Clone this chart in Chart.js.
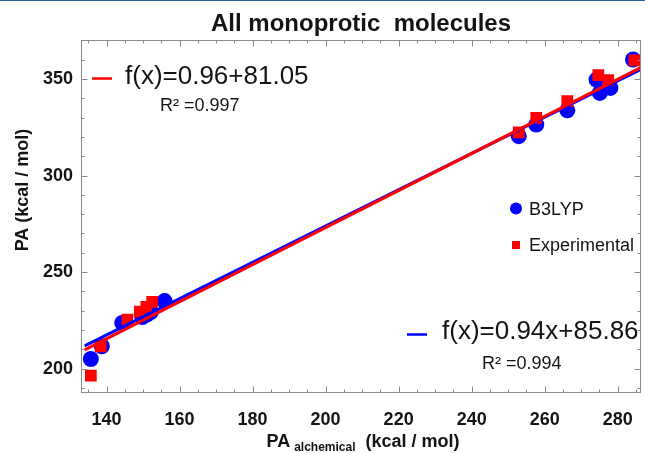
<!DOCTYPE html>
<html lang="en">
<head>
<meta charset="UTF-8">
<title>All monoprotic molecules</title>
<script src="https://cdn.jsdelivr.net/npm/chart.js"></script>
<style>
  body { margin: 0; background: #fff; overflow: hidden; }
  /* canvas is a few px wider than the window so the plot frame reaches the right edge */
  #wrap { width: 645px; height: 453px; overflow: hidden; }
</style>
</head>
<body>
<div id="wrap"><canvas id="paChart" width="649" height="453"></canvas></div>
<script>
// values (kcal/mol)
const b3lypX = [135.7, 138.7, 144.3, 149.8, 151.0, 152.1, 155.9, 252.9, 257.7, 266.2, 274.2, 275.1, 278.0, 284.2];
const b3lypY = [205.0, 211.6, 223.7, 226.7, 228.0, 229.3, 235.0, 320.4, 326.4, 333.8, 349.7, 342.8, 345.4, 360.1];
const expX = [135.7, 138.4, 145.7, 149.1, 150.9, 152.5, 252.9, 257.7, 266.2, 274.7, 277.4, 284.6];
const expY = [196.4, 211.6, 225.4, 229.6, 232.0, 234.6, 322.4, 329.9, 338.5, 352.0, 349.4, 359.6];

// fitted lines, end points
const fitX = [134, 286.3];
const expFitY = [209.7, 355.9];
const b3lypFitY = [211.8, 355.0];

const xTicks = [140, 160, 180, 200, 220, 240, 260, 280];
const yTicks = [200, 250, 300, 350];
const xMinorStep = 5;
const yMinorStep = 10;

const FONT = '"Liberation Sans", Arial, sans-serif';
const INK = '#141414';

function pts(xs, ys) {
    return xs.map((x, i) => ({ x: x, y: ys[i] }));
}

// frame, inner ticks, titles, legend and fit labels
const decor = {
    id: 'decor',
    afterDraw(chart) {
        const ctx = chart.ctx;
        const a = chart.chartArea;
        const sx = chart.scales.x, sy = chart.scales.y;
        const L = Math.round(a.left) + 0.5, R = Math.round(a.right) - 0.5;
        const T = Math.round(a.top) + 0.5, B = Math.round(a.bottom) - 0.5;

        ctx.save();
        // thin blue rule at the very top
        ctx.fillStyle = '#2f63a6';
        ctx.fillRect(0, 0, chart.width, 1);

        ctx.strokeStyle = '#8a8a8a';
        ctx.lineWidth = 1;
        ctx.strokeRect(L, T, R - L, B - T);

        ctx.beginPath();
        for (let v = Math.ceil(sx.min / xMinorStep) * xMinorStep; v <= sx.max; v += xMinorStep) {
            const len = xTicks.includes(v) ? 6 : 3;
            const px = Math.round(sx.getPixelForValue(v)) + 0.5;
            ctx.moveTo(px, B); ctx.lineTo(px, B - len);
            ctx.moveTo(px, T); ctx.lineTo(px, T + len);
        }
        for (let v = Math.ceil(sy.min / yMinorStep) * yMinorStep; v <= sy.max; v += yMinorStep) {
            const len = yTicks.includes(v) ? 6 : 3;
            const py = Math.round(sy.getPixelForValue(v)) + 0.5;
            ctx.moveTo(L, py); ctx.lineTo(L + len, py);
            ctx.moveTo(R, py); ctx.lineTo(R - len, py);
        }
        ctx.stroke();

        // chart title
        ctx.fillStyle = INK;
        ctx.textAlign = 'center';
        ctx.textBaseline = 'alphabetic';
        ctx.font = 'bold 24px ' + FONT;
        ctx.fillText('All monoprotic  molecules', 361, 31);

        // y axis title
        ctx.save();
        ctx.translate(23, 190);
        ctx.rotate(-Math.PI / 2);
        ctx.font = 'bold 18px ' + FONT;
        ctx.textBaseline = 'middle';
        ctx.fillText('PA (kcal / mol)', 0, 0);
        ctx.restore();

        // x axis title with subscript
        ctx.textAlign = 'left';
        const big = 'bold 18px ' + FONT, small = 'bold 12px ' + FONT;
        ctx.font = big;
        const w1 = ctx.measureText('PA').width;
        const w3 = ctx.measureText('(kcal / mol)').width;
        ctx.font = small;
        const w2 = ctx.measureText('alchemical').width;
        const gap1 = 4, gap2 = 10;
        let x0 = 363 - (w1 + gap1 + w2 + gap2 + w3) / 2;
        ctx.font = big;
        ctx.fillText('PA', x0, 447);
        ctx.font = small;
        ctx.fillText('alchemical', x0 + w1 + gap1, 451);
        ctx.font = big;
        ctx.fillText('(kcal / mol)', x0 + w1 + gap1 + w2 + gap2, 447);

        // legend
        ctx.fillStyle = '#0000ff';
        ctx.beginPath();
        ctx.arc(516, 208.5, 6, 0, Math.PI * 2);
        ctx.fill();
        ctx.fillStyle = '#ff0000';
        ctx.fillRect(512, 241, 8, 8);
        ctx.fillStyle = INK;
        ctx.font = '18px ' + FONT;
        ctx.fillText('B3LYP', 529, 215);
        ctx.fillText('Experimental', 529, 251);

        // fit equations
        ctx.lineWidth = 2.5;
        ctx.strokeStyle = '#ff0000';
        ctx.beginPath(); ctx.moveTo(92, 78.5); ctx.lineTo(112, 78.5); ctx.stroke();
        ctx.strokeStyle = '#0000ff';
        ctx.beginPath(); ctx.moveTo(407, 334.5); ctx.lineTo(427, 334.5); ctx.stroke();

        ctx.font = '26px ' + FONT;
        ctx.fillText('f(x)=0.96+81.05', 125, 84);
        ctx.fillText('f(x)=0.94x+85.86', 442, 339);
        ctx.font = '18px ' + FONT;
        ctx.fillText('R\u00b2 =0.997', 160, 111);
        ctx.fillText('R\u00b2 =0.994', 482, 369);
        ctx.restore();
    }
};

const tickFont = { family: FONT, size: 18, weight: 'bold' };

new Chart(document.getElementById('paChart'), {
    type: 'scatter',
    data: {
        datasets: [
            {
                label: 'Experimental fit', type: 'line', data: pts(fitX, expFitY),
                borderColor: '#ff0000', borderWidth: 3, pointRadius: 0, fill: false, order: 0
            },
            {
                label: 'B3LYP fit', type: 'line', data: pts(fitX, b3lypFitY),
                borderColor: '#0000ff', borderWidth: 3, pointRadius: 0, fill: false, order: 1
            },
            {
                label: 'Experimental', data: pts(expX, expY), pointStyle: 'rect', pointRadius: 8.3,
                pointBackgroundColor: '#ff0000', pointBorderColor: '#ff0000', pointBorderWidth: 0, order: 2
            },
            {
                label: 'B3LYP', data: pts(b3lypX, b3lypY), pointStyle: 'circle', pointRadius: 8,
                pointBackgroundColor: '#0000ff', pointBorderColor: '#0000ff', pointBorderWidth: 0, order: 3
            }
        ]
    },
    options: {
        responsive: false,
        animation: false,
        devicePixelRatio: 1,
        layout: { padding: { top: 40, right: 0, left: 0, bottom: 0 } },
        plugins: {
            legend: { display: false },
            tooltip: { enabled: false },
            title: { display: false }
        },
        scales: {
            x: {
                type: 'linear', min: 133, max: 286.3,
                grid: { display: false, drawTicks: false },
                border: { display: false },
                afterBuildTicks: (s) => { s.ticks = xTicks.map(v => ({ value: v })); },
                afterFit: (s) => { s.height = 60; s.paddingLeft = 0; s.paddingRight = 0; },
                ticks: { font: tickFont, color: INK, padding: 16, maxRotation: 0, autoSkip: false }
            },
            y: {
                type: 'linear', min: 187.4, max: 370.2,
                grid: { display: false, drawTicks: false },
                border: { display: false },
                afterBuildTicks: (s) => { s.ticks = yTicks.map(v => ({ value: v })); },
                afterFit: (s) => { s.width = 81; s.paddingTop = 0; s.paddingBottom = 0; },
                ticks: { font: tickFont, color: INK, padding: 8, autoSkip: false }
            }
        }
    },
    plugins: [decor]
});
</script>
</body>
</html>
